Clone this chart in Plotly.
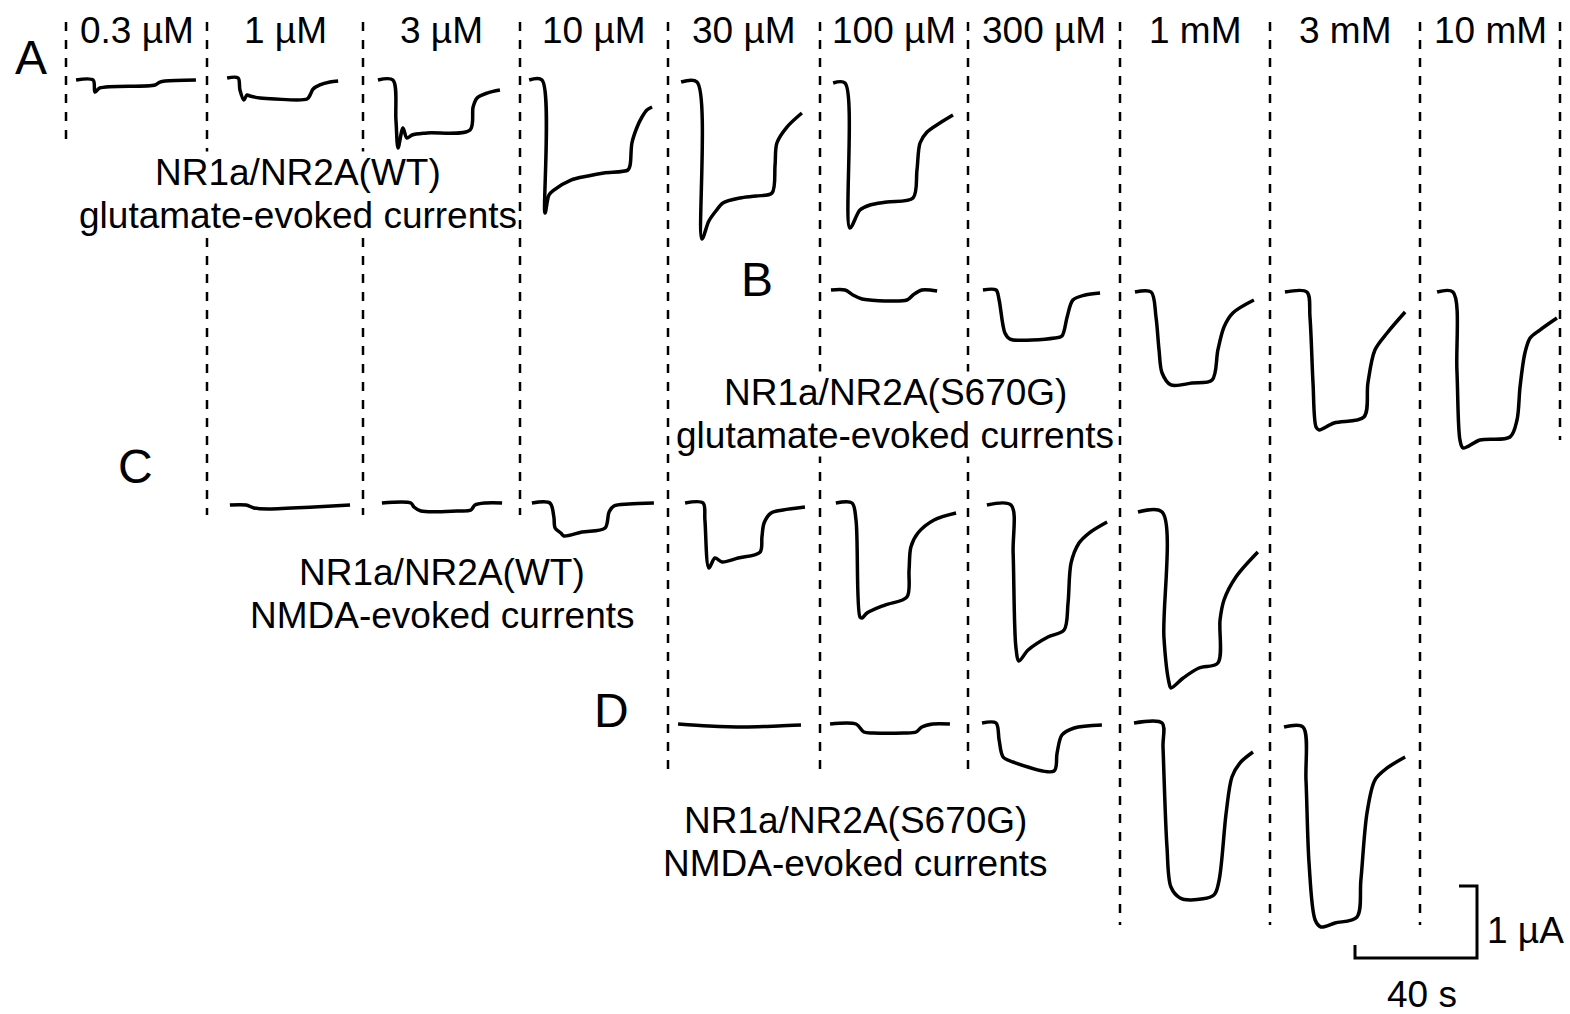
import plotly.graph_objects as go

# ---------------- scale (from the scale bar: 40 s, 1 uA) ----------------
PX_PER_S = 3.05
PX_PER_UA = 72.0
SCALE_T = 40      # s
SCALE_I = 1       # uA

# ---------------- categories ----------------
concentrations = ["0.3 µM", "1 µM", "3 µM", "10 µM", "30 µM", "100 µM",
                  "300 µM", "1 mM", "3 mM", "10 mM"]

panel_letters = ["A", "B", "C", "D"]
panel_line1 = ["NR1a/NR2A(WT)", "NR1a/NR2A(S670G)", "NR1a/NR2A(WT)", "NR1a/NR2A(S670G)"]
panel_line2 = ["glutamate-evoked currents", "glutamate-evoked currents",
               "NMDA-evoked currents", "NMDA-evoked currents"]

# ---------------- trace data: time (s) from column start, current (uA) ----------------
# Panel A : NR1a/NR2A(WT), glutamate
A1_t = [3.3, 8.9, 9.5, 11.1, 29.2, 30.8, 32.5, 42.6]
A1_i = [0, 0, -0.167, -0.111, -0.069, -0.028, -0.014, 0]
A2_t = [6.6, 10.2, 10.8, 12.1, 13.1, 14.1, 17.4, 22.3, 32.8, 33.8, 34.8, 37.0, 40.3, 43.0]
A2_i = [0.028, 0.028, -0.139, -0.278, -0.208, -0.222, -0.25, -0.264, -0.264, -0.208, -0.125, -0.069, -0.028, -0.014]
A3_t = [4.9, 9.8, 10.8, 11.5, 13.1, 14.4, 16.1, 21.0, 35.1, 36.1, 37.4, 40.7, 44.9]
A3_i = [0, 0, -0.556, -0.944, -0.667, -0.806, -0.764, -0.736, -0.694, -0.375, -0.25, -0.181, -0.139]
A4_t = [3.0, 7.2, 8.2, 9.5, 11.1, 16.7, 22.3, 27.5, 35.4, 36.1, 36.7, 38.4, 40.0, 41.6, 43.3]
A4_i = [0, 0, -1.847, -1.597, -1.528, -1.389, -1.333, -1.292, -1.25, -1.181, -0.875, -0.653, -0.514, -0.417, -0.375]
A5_t = [4.3, 9.5, 11.1, 13.4, 15.7, 18.0, 23.6, 28.9, 34.1, 35.1, 35.7, 39.0, 43.9]
A5_i = [-0.028, -0.028, -2.208, -1.958, -1.819, -1.708, -1.639, -1.611, -1.569, -1.181, -0.875, -0.653, -0.458]
A6_t = [4.3, 8.2, 9.8, 13.1, 16.4, 21.981, 30.5, 31.8, 32.8, 35.1, 39.3, 43.6]
A6_i = [-0.042, -0.042, -2.056, -1.806, -1.736, -1.694, -1.639, -1.25, -0.875, -0.722, -0.597, -0.486]

# Panel B : NR1a/NR2A(S670G), glutamate
B1_t = [3.6, 8.2, 10.8, 13.8, 16.4, 28.5, 30.5, 33.4, 38.4]
B1_i = [0, 0, -0.069, -0.125, -0.139, -0.139, -0.069, 0, -0.014]
B2_t = [4.9, 9.2, 10.2, 12.1, 13.8, 28.5, 30.8, 32.5, 34.4, 38.4, 43.3]
B2_i = [0, 0, -0.139, -0.597, -0.681, -0.667, -0.639, -0.375, -0.139, -0.069, -0.042]
B3_t = [4.9, 10.2, 11.8, 12.8, 13.8, 16.7, 23.6, 30.2, 32.1, 34.1, 37.0, 43.9]
B3_i = [-0.028, -0.028, -0.375, -0.833, -1.153, -1.319, -1.292, -1.25, -0.833, -0.514, -0.319, -0.139]
B4_t = [4.9, 12.1, 13.1, 14.1, 15.1, 16.1, 21.0, 30.8, 32.1, 34.4, 38.4, 44.3]
B4_i = [-0.028, -0.028, -0.375, -1.292, -1.903, -1.944, -1.847, -1.764, -1.292, -0.833, -0.597, -0.306]
B5_t = [5.6, 10.8, 12.1, 13.1, 14.1, 19.7, 29.5, 31.8, 32.8, 34.4, 36.1, 39.3, 44.9]
B5_i = [-0.028, -0.028, -1.111, -2.083, -2.194, -2.083, -2.042, -1.806, -1.347, -0.875, -0.667, -0.556, -0.389]

# Panel C : NR1a/NR2A(WT), NMDA
C1_t = [7.5, 12.8, 15.4, 20.0, 35.1, 46.9]
C1_i = [-0.028, -0.028, -0.069, -0.083, -0.056, -0.028]
C2_t = [6.2, 15.7, 16.7, 19.0, 30.8, 35.4, 36.7, 40.3, 45.6]
C2_i = [0, 0, -0.056, -0.111, -0.111, -0.097, -0.028, 0, 0]
C3_t = [3.9, 9.8, 11.1, 11.5, 13.4, 14.4, 20.3, 27.9, 29.2, 30.8, 35.7, 43.9]
C3_i = [0, 0, -0.194, -0.347, -0.417, -0.458, -0.403, -0.347, -0.125, -0.042, -0.014, 0]
C4_t = [5.6, 11.5, 12.1, 13.4, 15.4, 17.7, 23.0, 30.2, 30.8, 31.5, 33.8, 37.7, 44.9]
C4_i = [0, 0, -0.236, -0.903, -0.764, -0.819, -0.764, -0.681, -0.472, -0.278, -0.139, -0.097, -0.056]
C5_t = [5.2, 10.5, 11.8, 13.1, 13.8, 15.4, 21.3, 28.5, 29.2, 29.8, 32.1, 37.4, 44.6]
C5_i = [0, 0, -0.236, -1.583, -1.597, -1.528, -1.417, -1.306, -0.931, -0.611, -0.417, -0.236, -0.139]
C6_t = [6.2, 14.1, 14.8, 15.7, 16.7, 19.7, 26.2, 31.5, 32.8, 33.8, 36.4, 39.7, 45.6]
C6_i = [-0.028, -0.028, -0.694, -2.0, -2.194, -2.042, -1.861, -1.764, -1.389, -0.833, -0.556, -0.417, -0.264]
C7_t = [5.9, 13.8, 14.4, 16.1, 16.7, 20.7, 25.9, 32.1, 32.8, 34.1, 38.0, 45.2]
C7_i = [-0.125, -0.125, -1.861, -2.5, -2.569, -2.431, -2.292, -2.222, -1.625, -1.347, -1.028, -0.681]

# Panel D : NR1a/NR2A(S670G), NMDA
D1_t = [3.3, 13.4, 24.9, 36.1, 43.6]
D1_i = [0, -0.028, -0.042, -0.028, -0.014]
D2_t = [3.3, 11.8, 14.4, 17.4, 27.5, 31.5, 33.4, 37.0, 42.6]
D2_i = [0, 0, -0.111, -0.125, -0.125, -0.111, -0.042, 0, 0]
D3_t = [4.6, 9.2, 10.2, 11.5, 14.8, 28.2, 29.2, 30.8, 34.8, 43.9]
D3_i = [0.014, 0.014, -0.222, -0.458, -0.528, -0.653, -0.403, -0.153, -0.056, -0.014]
D4_t = [4.6, 13.8, 14.1, 15.4, 16.7, 19.7, 23.3, 30.8, 32.5, 34.8, 36.7, 39.3, 43.6]
D4_i = [0.014, 0.014, -0.319, -1.708, -2.264, -2.417, -2.444, -2.375, -2.167, -1.236, -0.736, -0.542, -0.389]
D5_t = [4.6, 10.8, 11.8, 12.8, 14.8, 16.7, 21.3, 28.5, 29.8, 31.8, 34.4, 38.4, 44.3]
D5_i = [-0.042, -0.042, -0.778, -1.931, -2.722, -2.819, -2.764, -2.681, -2.167, -1.236, -0.778, -0.611, -0.458]

# ---------------- layout (pixel page coordinates) ----------------
W, H = 1570, 1014
COL_EDGES = [66, 207, 363, 520, 668, 820, 968, 1120, 1270, 1420, 1560]
DASH_TOP = 22
DASH_BOTTOM = [140, 515, 515, 515, 770, 770, 770, 925, 925, 925, 440]
ROW_BASE = {"A": 80, "B": 290, "C": 503, "D": 724}

panels = [
    ("A", 0, [(A1_t, A1_i), (A2_t, A2_i), (A3_t, A3_i), (A4_t, A4_i), (A5_t, A5_i), (A6_t, A6_i)]),
    ("B", 5, [(B1_t, B1_i), (B2_t, B2_i), (B3_t, B3_i), (B4_t, B4_i), (B5_t, B5_i)]),
    ("C", 1, [(C1_t, C1_i), (C2_t, C2_i), (C3_t, C3_i), (C4_t, C4_i), (C5_t, C5_i), (C6_t, C6_i), (C7_t, C7_i)]),
    ("D", 4, [(D1_t, D1_i), (D2_t, D2_i), (D3_t, D3_i), (D4_t, D4_i), (D5_t, D5_i)]),
]

LETTER_POS = {"A": (31, 57), "B": (757, 279), "C": (135, 466), "D": (611, 710)}
TEXT_POS = {"A": (298, 172), "B": (895, 392), "C": (442, 572), "D": (855, 820)}
LINE_GAP = 43
SCALE_ORIGIN = (1355, 958)

FONT = "Liberation Sans, Arial, sans-serif"
FS = 37
FS_LETTER = 48

fig = go.Figure()

for row, first_col, traces in panels:
    for k, (t, cur) in enumerate(traces):
        x0 = COL_EDGES[first_col + k]
        xs = [x0 + v * PX_PER_S for v in t]
        ys = [ROW_BASE[row] - v * PX_PER_UA for v in cur]
        fig.add_trace(go.Scatter(x=xs, y=ys, mode="lines",
                                 line=dict(color="black", width=3.5, shape="spline", smoothing=0.9),
                                 hoverinfo="skip", showlegend=False))

# scale bar
sx, sy = SCALE_ORIGIN
lx = SCALE_T * PX_PER_S
ly = SCALE_I * PX_PER_UA
fig.add_trace(go.Scatter(
    x=[sx, sx, sx + lx, sx + lx, sx + lx - 18],
    y=[sy - 13, sy, sy, sy - ly, sy - ly],
    mode="lines", line=dict(color="black", width=3), hoverinfo="skip", showlegend=False))

shapes = []
for x, yb in zip(COL_EDGES, DASH_BOTTOM):
    shapes.append(dict(type="line", xref="x", yref="y", x0=x, x1=x, y0=DASH_TOP, y1=yb,
                       layer="below", line=dict(color="black", width=2.5, dash="9px,9px")))

ann = []
def text(x, y, s, size, anchor="center"):
    ann.append(dict(x=x, y=y, text=s, showarrow=False, xref="x", yref="y",
                    xanchor=anchor, yanchor="middle", bgcolor="white", borderpad=0,
                    font=dict(size=size, color="black", family=FONT)))

for k, lab in enumerate(concentrations):
    text((COL_EDGES[k] + COL_EDGES[k + 1]) / 2, 30, lab, FS)
for k, p in enumerate(panel_letters):
    lx_, ly_ = LETTER_POS[p]
    text(lx_, ly_, p, FS_LETTER)
    tx, ty = TEXT_POS[p]
    text(tx, ty, panel_line1[k], FS)
    text(tx, ty + LINE_GAP, panel_line2[k], FS)

text(sx + lx + 9, sy - ly / 2 + 8, f"{SCALE_I} µA", FS, "left")
text(sx + lx / 2 + 6, sy + 36, f"{SCALE_T} s", FS)

fig.update_layout(
    width=W, height=H, margin=dict(l=0, r=0, t=0, b=0),
    paper_bgcolor="white", plot_bgcolor="white",
    xaxis=dict(range=[0, W], visible=False, fixedrange=True),
    yaxis=dict(range=[H, 0], visible=False, fixedrange=True),
    shapes=shapes, annotations=ann, showlegend=False,
)

fig.write_html("out.html")
